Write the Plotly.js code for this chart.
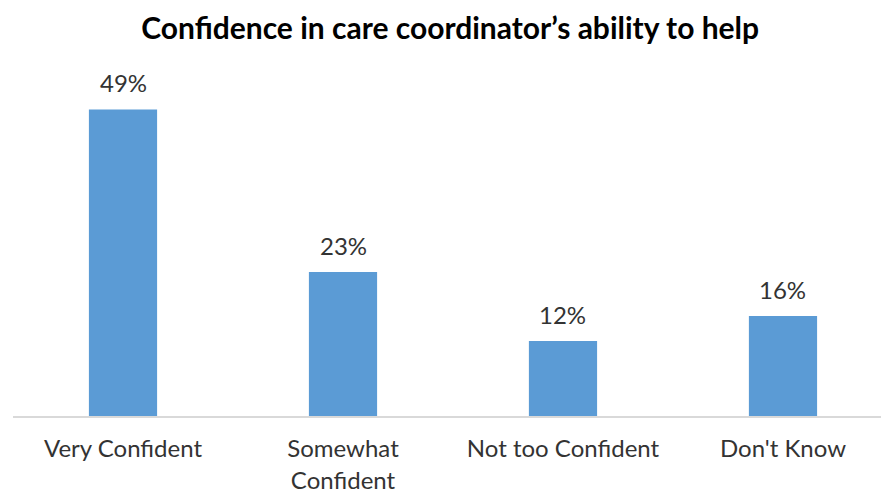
<!DOCTYPE html>
<html><head><meta charset="utf-8">
<script src="https://cdn.plot.ly/plotly-3.0.1.min.js"></script>
<style>body{margin:0;background:#fff}#c{width:881px;height:494px}</style>
</head><body><div id="c"></div>
<script>
const categories = ["Very Confident", "Somewhat<br>Confident", "Not too Confident", "Don't Know"];
const values = [49, 23, 12, 16];
const labels = ["49%", "23%", "12%", "16%"];

const trace = {
  type: 'bar', x: categories, y: values,
  marker: {color: '#5B9BD5'}, width: 0.31, hoverinfo: 'skip'
};
const annotations = categories.map((c, i) => ({
  x: c, y: values[i], text: labels[i], showarrow: false,
  yanchor: 'bottom', yshift: 10,
  font: {family: 'Lato, "Open Sans", sans-serif', size: 24, color: '#333'}
}));
Plotly.newPlot('c', [trace], {
  width: 881, height: 494,
  margin: {l: 13, r: 0, t: 60, b: 78},
  paper_bgcolor: '#fff', plot_bgcolor: '#fff',
  title: {text: '<b>Confidence in care coordinator’s ability to help</b>', x: 0.511, xanchor: 'center', y: 0.943, yanchor: 'middle',
    font: {family: 'Lato, "Open Sans", sans-serif', size: 30, color: '#000'}},
  xaxis: {type: 'category', range: [-0.5, 3.4455], showline: true, linecolor: '#d9d9d9', linewidth: 1.5,
    ticks: '', ticklabelstandoff: 11, tickfont: {family: 'Lato, "Open Sans", sans-serif', size: 24, color: '#333'}, fixedrange: true},
  yaxis: {range: [0, 56.9], visible: false, showgrid: false, zeroline: false},
  annotations: annotations,
  showlegend: false
}, {displayModeBar: false, staticPlot: true});
</script></body></html>
